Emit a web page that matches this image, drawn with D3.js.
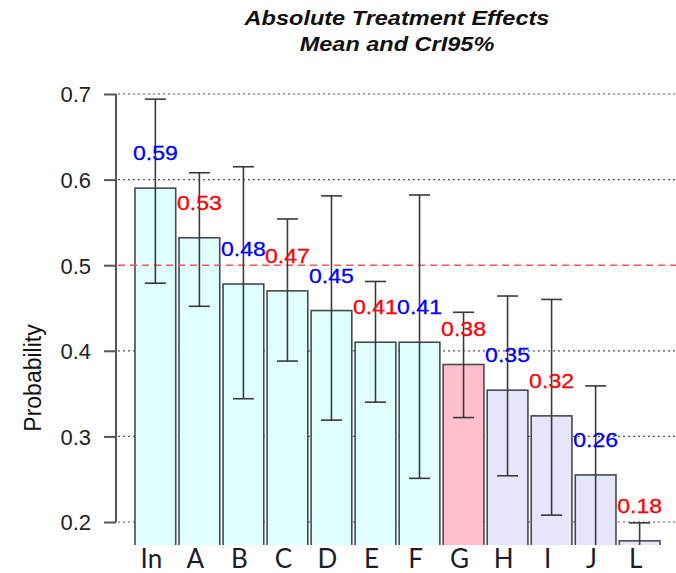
<!DOCTYPE html>
<html>
<head>
<meta charset="utf-8">
<script src="https://cdn.jsdelivr.net/npm/d3@7"></script>
<style>
  html, body { margin: 0; padding: 0; background: #fff; }
  svg { display: block; }
</style>
</head>
<body>
<div id="chart"></div>
<script>
// Treatments, posterior means and 95% credible intervals
const treatments = ["In", "A", "B", "C", "D", "E", "F", "G", "H", "I", "J", "L"];
const means      = [0.59, 0.532, 0.478, 0.470, 0.447, 0.410, 0.410, 0.384, 0.354, 0.324, 0.255, 0.178];
const lower      = [0.479, 0.452, 0.344, 0.388, 0.319, 0.340, 0.251, 0.322, 0.254, 0.208, 0.15, 0.16];
const upper      = [0.694, 0.608, 0.615, 0.554, 0.581, 0.481, 0.582, 0.445, 0.464, 0.460, 0.359, 0.199];
const groups     = ["hi", "hi", "hi", "hi", "hi", "hi", "hi", "ref", "lo", "lo", "lo", "lo"];
const yTicks     = [0.2, 0.3, 0.4, 0.5, 0.6, 0.7];
const refLine    = 0.5;

const W = 676, H = 573;
const plotLeft = 116, plotRight = 676, plotBottom = 545, plotTop = 60;

const svg = d3.select("#chart").append("svg")
  .attr("width", W).attr("height", H);

const x = d3.scaleBand()
  .domain(treatments)
  .range([135, 660])
  .paddingInner(0.075)
  .paddingOuter(0.0);

const y = d3.scaleLinear().domain([0.2, 0.7]).range([522, 94]);

const fill = d3.scaleOrdinal()
  .domain(["hi", "ref", "lo"])
  .range(["#e0ffff", "#ffc0cb", "#e6e6fa"]);

svg.append("defs").append("clipPath").attr("id", "plotClip")
  .append("rect")
  .attr("x", plotLeft).attr("y", plotTop)
  .attr("width", plotRight - plotLeft).attr("height", plotBottom - plotTop);

// dotted reference grid behind the bars
svg.append("g")
  .selectAll("line")
  .data(yTicks.filter(t => t !== refLine))
  .join("line")
  .attr("x1", plotLeft + 2).attr("x2", plotRight)
  .attr("y1", d => y(d)).attr("y2", d => y(d))
  .attr("stroke", "#555").attr("stroke-width", 1.2)
  .attr("stroke-dasharray", "2,3");

// y axis
const yAxis = d3.axisLeft(y).tickValues(yTicks).tickSize(12).tickPadding(13)
  .tickFormat(d3.format(".1f"));
const ga = svg.append("g").attr("transform", `translate(${plotLeft},0)`).call(yAxis);
ga.select(".domain").attr("d", `M0,${y(0.7)}V${y(0.2)}`).attr("stroke", "#555").attr("stroke-width", 2);
ga.selectAll(".tick line").attr("stroke", "#555").attr("stroke-width", 2);
ga.selectAll(".tick text")
  .attr("font-family", "Liberation Sans, Arial, sans-serif")
  .attr("font-size", 22).attr("fill", "#222")
  .attr("dy", "0.36em");

// bars
const plot = svg.append("g").attr("clip-path", "url(#plotClip)");
plot.selectAll("rect.bar")
  .data(treatments)
  .join("rect")
  .attr("class", "bar")
  .attr("x", d => x(d))
  .attr("width", x.bandwidth())
  .attr("y", (d, i) => y(means[i]))
  .attr("height", (d, i) => plotBottom + 4 - y(means[i]))
  .attr("fill", (d, i) => fill(groups[i]))
  .attr("stroke", "#4a4a4a").attr("stroke-width", 1.6);

// red dashed reference line
plot.append("line")
  .attr("x1", plotLeft + 2).attr("x2", plotRight)
  .attr("y1", y(refLine)).attr("y2", y(refLine))
  .attr("stroke", "#ff5555").attr("stroke-width", 1.4)
  .attr("stroke-dasharray", "7,5");

// credible interval whiskers
const cap = 10.5;
const eb = plot.append("g").attr("stroke", "#3a3a3a").attr("stroke-width", 1.6);
treatments.forEach((t, i) => {
  const cx = x(t) + x.bandwidth() / 2;
  eb.append("line").attr("x1", cx).attr("x2", cx)
    .attr("y1", y(upper[i])).attr("y2", y(lower[i]));
  eb.append("line").attr("x1", cx - cap).attr("x2", cx + cap)
    .attr("y1", y(upper[i])).attr("y2", y(upper[i]));
  eb.append("line").attr("x1", cx - cap).attr("x2", cx + cap)
    .attr("y1", y(lower[i])).attr("y2", y(lower[i]));
});

// mean value labels, alternating colours
svg.append("g").selectAll("text")
  .data(treatments)
  .join("text")
  .attr("transform", (d, i) =>
    `translate(${x(d) + x.bandwidth() / 2},${y(means[i]) - 28}) scale(1.1,1)`)
  .attr("text-anchor", "middle")
  .attr("font-family", "Liberation Sans, Arial, sans-serif")
  .attr("font-size", 21)
  .attr("fill", (d, i) => i % 2 === 0 ? "#0000ff" : "#ff0000")
  .attr("stroke", (d, i) => i % 2 === 0 ? "#0000ff" : "#ff0000")
  .attr("stroke-width", 0.3)
  .text((d, i) => means[i].toFixed(2));

// category labels
svg.append("g").selectAll("text")
  .data(treatments)
  .join("text")
  .attr("x", d => x(d) + x.bandwidth() / 2 - 4)
  .attr("y", 568)
  .attr("text-anchor", "middle")
  .attr("font-family", "Lato, 'Open Sans', sans-serif")
  .attr("font-size", 26)
  .attr("fill", "#1c1c2a")
  .text(d => d);

// y axis title
svg.append("text")
  .attr("transform", "translate(41,378) rotate(-90)")
  .attr("text-anchor", "middle")
  .attr("font-family", "Liberation Sans, Arial, sans-serif")
  .attr("font-size", 23)
  .attr("fill", "#111")
  .text("Probability");

// chart title
const title = svg.append("g")
  .attr("font-family", "Liberation Sans, Arial, sans-serif")
  .attr("font-size", 21).attr("font-weight", "bold").attr("font-style", "italic")
  .attr("fill", "#111").attr("text-anchor", "middle");
title.append("text").attr("transform", "translate(397,25) scale(1.12,1)")
  .text("Absolute Treatment Effects");
title.append("text").attr("transform", "translate(397,51) scale(1.12,1)")
  .text("Mean and CrI95%");
</script>
</body>
</html>
